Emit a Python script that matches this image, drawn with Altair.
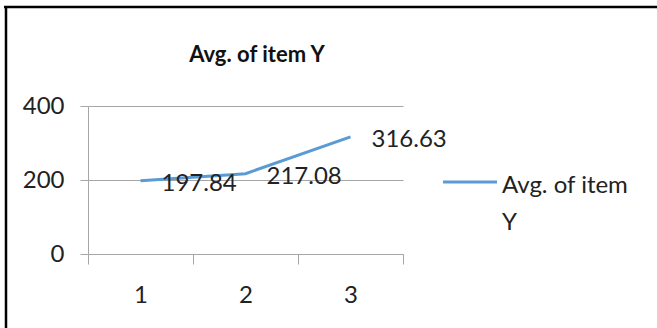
import altair as alt
import pandas as pd

# Series values
categories = ["1", "2", "3"]
averages = [197.84, 217.08, 316.63]
series_name = "Avg. of item Y"
legend_lines = ["Avg. of item", "Y"]
y_ticks = [0, 200, 400]

df = pd.DataFrame({"cat": categories, "value": averages, "series": [series_name] * 3})

FONT = "Lato"
FS = 24
LINE_BLUE = "#5B9BD5"
GRID = "#A6A6A6"
TEXT = "#222222"

x_enc = alt.X(
    "cat:O",
    sort=categories,
    scale=alt.Scale(type="band", paddingInner=0, paddingOuter=0),
    axis=alt.Axis(
        title=None, labelAngle=0, tickBand="extent", tickSize=10,
        labelFontSize=FS, labelPadding=19, labelColor=TEXT,
        domainColor=GRID, tickColor=GRID, grid=False,
    ),
)
y_enc = alt.Y(
    "value:Q",
    scale=alt.Scale(domain=[0, 400]),
    axis=alt.Axis(
        title=None, values=y_ticks, tickSize=8, labelPadding=16,
        labelFontSize=FS, labelColor=TEXT,
        domainColor=GRID, tickColor=GRID, gridColor=GRID, grid=True,
    ),
)

line = alt.Chart(df).mark_line(strokeWidth=3, color=LINE_BLUE).encode(x=x_enc, y=y_enc)

labels = alt.Chart(df).mark_text(
    align="left", baseline="middle", dx=21, dy=3, fontSize=FS, font=FONT, color=TEXT
).encode(x=x_enc, y=y_enc, text=alt.Text("value:Q", format=".2f"))

# Legend: a short blue stroke with the wrapped series name beside it
legend_df = pd.DataFrame({"series": [series_name]})
legend_swatch = alt.Chart(legend_df).mark_rule(color=LINE_BLUE, strokeWidth=3).encode(
    x=alt.value(355), x2=alt.value(409), y=alt.value(76)
)
legend_text = alt.Chart(legend_df).mark_text(
    text=legend_lines, align="left", baseline="alphabetic", lineHeight=37,
    fontSize=FS, font=FONT, color=TEXT,
).encode(x=alt.value(414), y=alt.value(87))

# Chart title drawn above the plot area
title_text = alt.Chart(legend_df).mark_text(
    align="center", baseline="alphabetic", fontSize=22, font=FONT,
    fontWeight="bold", color="#111",
).encode(x=alt.value(169), y=alt.value(-44), text="series:N")

# Frame lines along the top and left edges of the figure
frame_top = alt.Chart(legend_df).mark_rule(color="black", strokeWidth=2.5).encode(
    x=alt.value(-84), x2=alt.value(580), y=alt.value(-99)
)
frame_left = alt.Chart(legend_df).mark_rule(color="black", strokeWidth=2.5).encode(
    x=alt.value(-82), y=alt.value(-100), y2=alt.value(240)
)

chart = (
    alt.layer(line, labels, legend_swatch, legend_text, title_text, frame_top, frame_left)
    .properties(
        width=315, height=148,
        autosize=alt.AutoSizeParams(type="none"),
        padding={"left": 88, "top": 106, "right": 254, "bottom": 74},
    )
    .configure(font=FONT, background="white")
    .configure_view(stroke=None)
)

chart.save("out.html", embed_options={"renderer": "svg", "actions": False})
